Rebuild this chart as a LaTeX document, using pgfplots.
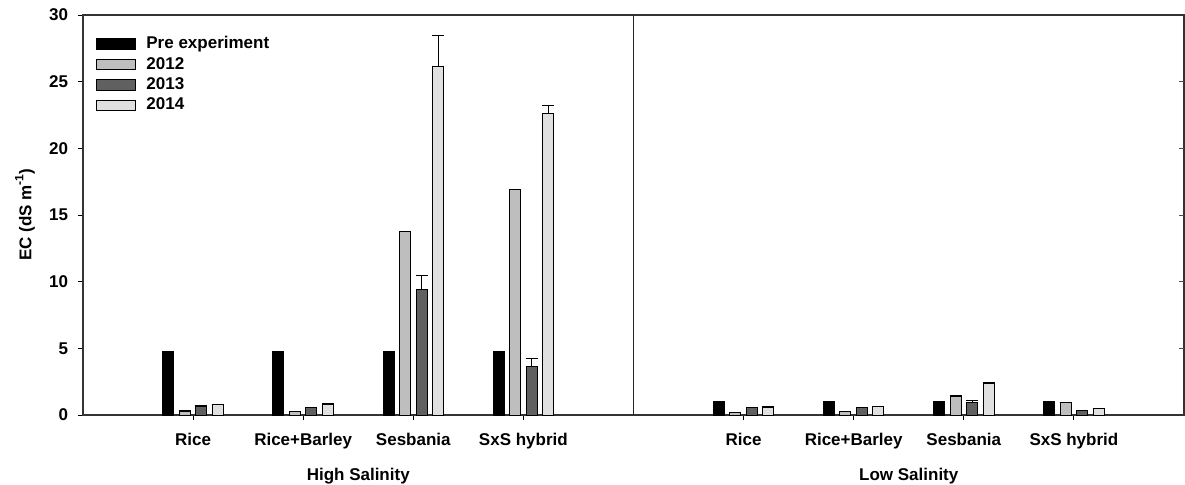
\documentclass[border=0pt]{standalone}
\usepackage{fontspec}
\setmainfont{Liberation Sans}
\usepackage{pgfplots}
\pgfplotsset{compat=1.18}
\definecolor{cA}{HTML}{BEBEBE}
\definecolor{cB}{HTML}{606060}
\definecolor{cC}{HTML}{E0E0E0}
\newcommand{\lf}{\bfseries\fontsize{8.5}{10}\selectfont}
\begin{document}
\begin{tikzpicture}
\path[use as bounding box] (-41.5pt,-34.5pt) rectangle (551pt,207.5pt);
\begin{axis}[
  at={(0pt,0pt)}, anchor=south west,
  scale only axis, width=550.5pt, height=200pt,
  clip=false,
  ybar=2.75pt, bar width=5.5pt,
  xmin=0, xmax=10, ymin=0, ymax=30,
  ytick={0,5,...,30}, xtick={1,2,3,4,6,7,8,9},
  xticklabels={Rice,Rice+Barley,Sesbania,SxS hybrid,Rice,Rice+Barley,Sesbania,SxS hybrid},
  tick align=outside, ytick pos=left, xtick pos=bottom,
  major tick length=2.5pt,
  tick style={black, line width=0.5pt},
  axis line style={line width=0.7pt, black!80},
  ticklabel style={font=\lf},
  yticklabel style={xshift=-1.4pt},
  xticklabel style={yshift=-3.2pt},
  /pgf/number format/assume math mode=true,
  legend style={draw=none, fill=none, at={(0,1)}, anchor=north west,
    xshift=6.5pt, yshift=-10pt, font=\lf, inner sep=0pt,
    nodes={inner sep=0.5pt}, row sep=1.75pt, legend cell align=left,
    /tikz/every odd column/.append style={column sep=4.5pt}},
  legend image code/.code={\draw[#1,/tikz/.cd] (0pt,-2.6pt) rectangle (19.5pt,2.6pt);},
  every axis plot/.append style={draw=black, line width=0.5pt},
  error bars/error bar style={black, line width=0.5pt},
  error bars/error mark options={black, line width=0.5pt, mark size=3pt, rotate=90},
]
\addplot[fill=black] coordinates {
  (1,4.8) (2,4.8) (3,4.8) (4,4.8) (6,1.0) (7,1.0) (8,1.0) (9,1.0)};
\addlegendentry{Pre experiment}
\addplot[fill=cA,
  error bars/.cd, y dir=plus, y explicit] coordinates {
  (1,0.30) +- (0,0.03)
  (2,0.27) +- (0,0.02)
  (3,13.78) +- (0,0.0)
  (4,16.88) +- (0,0.06)
  (6,0.20) +- (0,0.02)
  (7,0.27) +- (0,0.02)
  (8,1.38) +- (0,0.05)
  (9,0.93) +- (0,0.02)};
\addlegendentry{2012}
\addplot[fill=cB,
  error bars/.cd, y dir=plus, y explicit] coordinates {
  (1,0.67) +- (0,0.02)
  (2,0.57) +- (0,0.02)
  (3,9.45) +- (0,0.98)
  (4,3.62) +- (0,0.65)
  (6,0.55) +- (0,0.02)
  (7,0.55) +- (0,0.02)
  (8,0.97) +- (0,0.13)
  (9,0.35) +- (0,0.02)};
\addlegendentry{2013}
\addplot[fill=cC,
  error bars/.cd, y dir=plus, y explicit] coordinates {
  (1,0.78) +- (0,0.03)
  (2,0.82) +- (0,0.03)
  (3,26.12) +- (0,2.38)
  (4,22.58) +- (0,0.62)
  (6,0.60) +- (0,0.02)
  (7,0.65) +- (0,0.02)
  (8,2.35) +- (0,0.10)
  (9,0.47) +- (0,0.03)};
\addlegendentry{2014}
\draw[line width=0.7pt, black!85] (axis cs:5,0) -- (axis cs:5,30);
\pgfplotsinvokeforeach{5,10,15,20,25}{\draw[line width=0.5pt, black!70] (axis cs:10,#1) -- ++(-2.5pt,0);}
\path (axis cs:2.5,0) ++(0,-30.5pt) node[font=\lf] {High Salinity};
\path (axis cs:7.5,0) ++(0,-30.5pt) node[font=\lf] {Low Salinity};
\path (rel axis cs:0,0.5) ++(-29pt,0) node[font=\lf, rotate=90] {EC (dS m\raisebox{0.9ex}{\fontsize{6}{7}\selectfont -1})};
\end{axis}
\end{tikzpicture}
\end{document}
